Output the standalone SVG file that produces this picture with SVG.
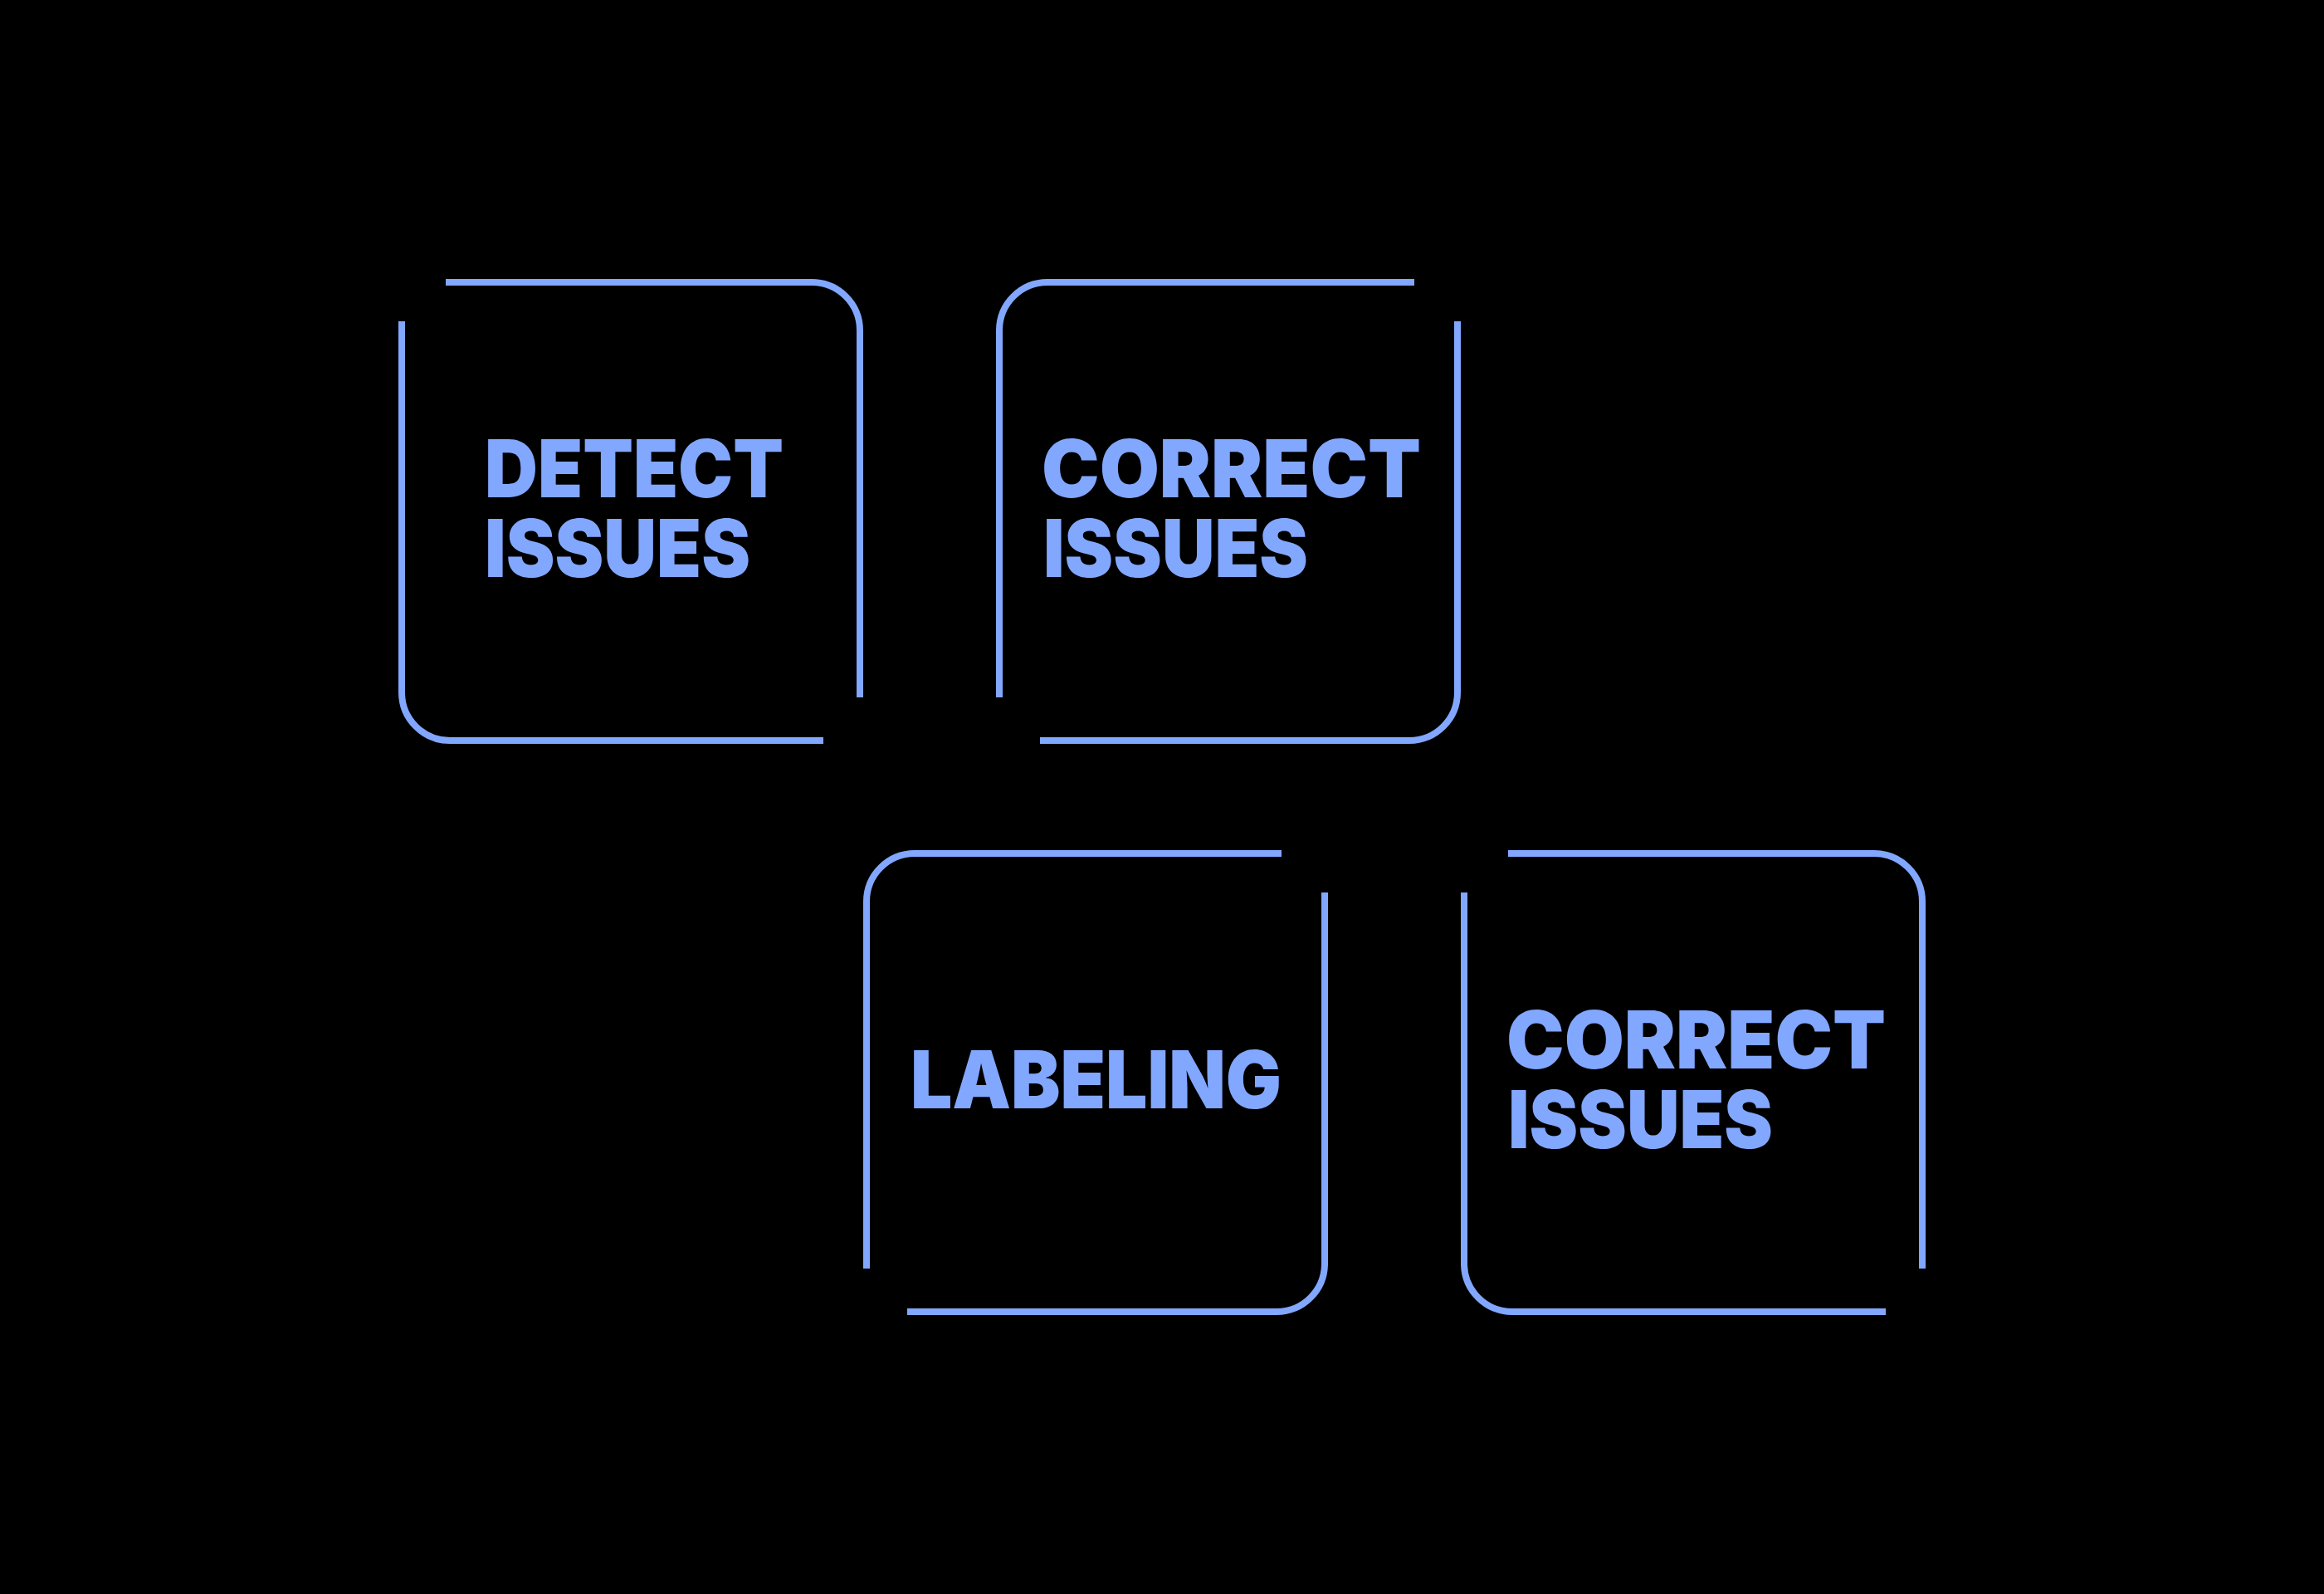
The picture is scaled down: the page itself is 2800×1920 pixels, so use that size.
<svg xmlns="http://www.w3.org/2000/svg" width="2800" height="1920" viewBox="0 0 2800 1920">
<style>
.frame{fill:none;stroke:#82A7FF;stroke-width:8;stroke-linecap:butt}
.lbl{fill:#82A7FF;font-family:Inter,"Liberation Sans",sans-serif;font-weight:900;font-size:96px}
</style>
<defs>
<g id="frameA">
<path class="frame" d="M53,0 H494 A58,58 0 0 1 552,58 V500"/>
<path class="frame" d="M0,47 V494 A58,58 0 0 0 58,552 H508"/>
</g>
<g id="frameB">
<path class="frame" d="M0,500 V58 A58,58 0 0 1 58,0 H500"/>
<path class="frame" d="M552,47 V494 A58,58 0 0 1 494,552 H49"/>
</g>
</defs>
<rect width="2800" height="1920" fill="#000"/>
<g id="detect-issues" transform="translate(484,340)">
<use href="#frameA"/>
<text class="lbl" x="100" y="259" textLength="360" lengthAdjust="spacingAndGlyphs">DETECT</text>
<text class="lbl" x="100" y="355" textLength="320" lengthAdjust="spacingAndGlyphs">ISSUES</text>
</g>
<g id="correct-issues-1" transform="translate(1204,340)">
<use href="#frameB"/>
<text class="lbl" x="51" y="259" textLength="457" lengthAdjust="spacingAndGlyphs">CORRECT</text>
<text class="lbl" x="53" y="355" textLength="319" lengthAdjust="spacingAndGlyphs">ISSUES</text>
</g>
<g id="labeling" transform="translate(1044,1028)">
<use href="#frameB"/>
<text class="lbl" x="53" y="307" textLength="447" lengthAdjust="spacingAndGlyphs">LABELING</text>
</g>
<g id="correct-issues-2" transform="translate(1764,1028)">
<use href="#frameA"/>
<text class="lbl" x="51" y="259" textLength="457" lengthAdjust="spacingAndGlyphs">CORRECT</text>
<text class="lbl" x="53" y="355" textLength="319" lengthAdjust="spacingAndGlyphs">ISSUES</text>
</g>
</svg>
